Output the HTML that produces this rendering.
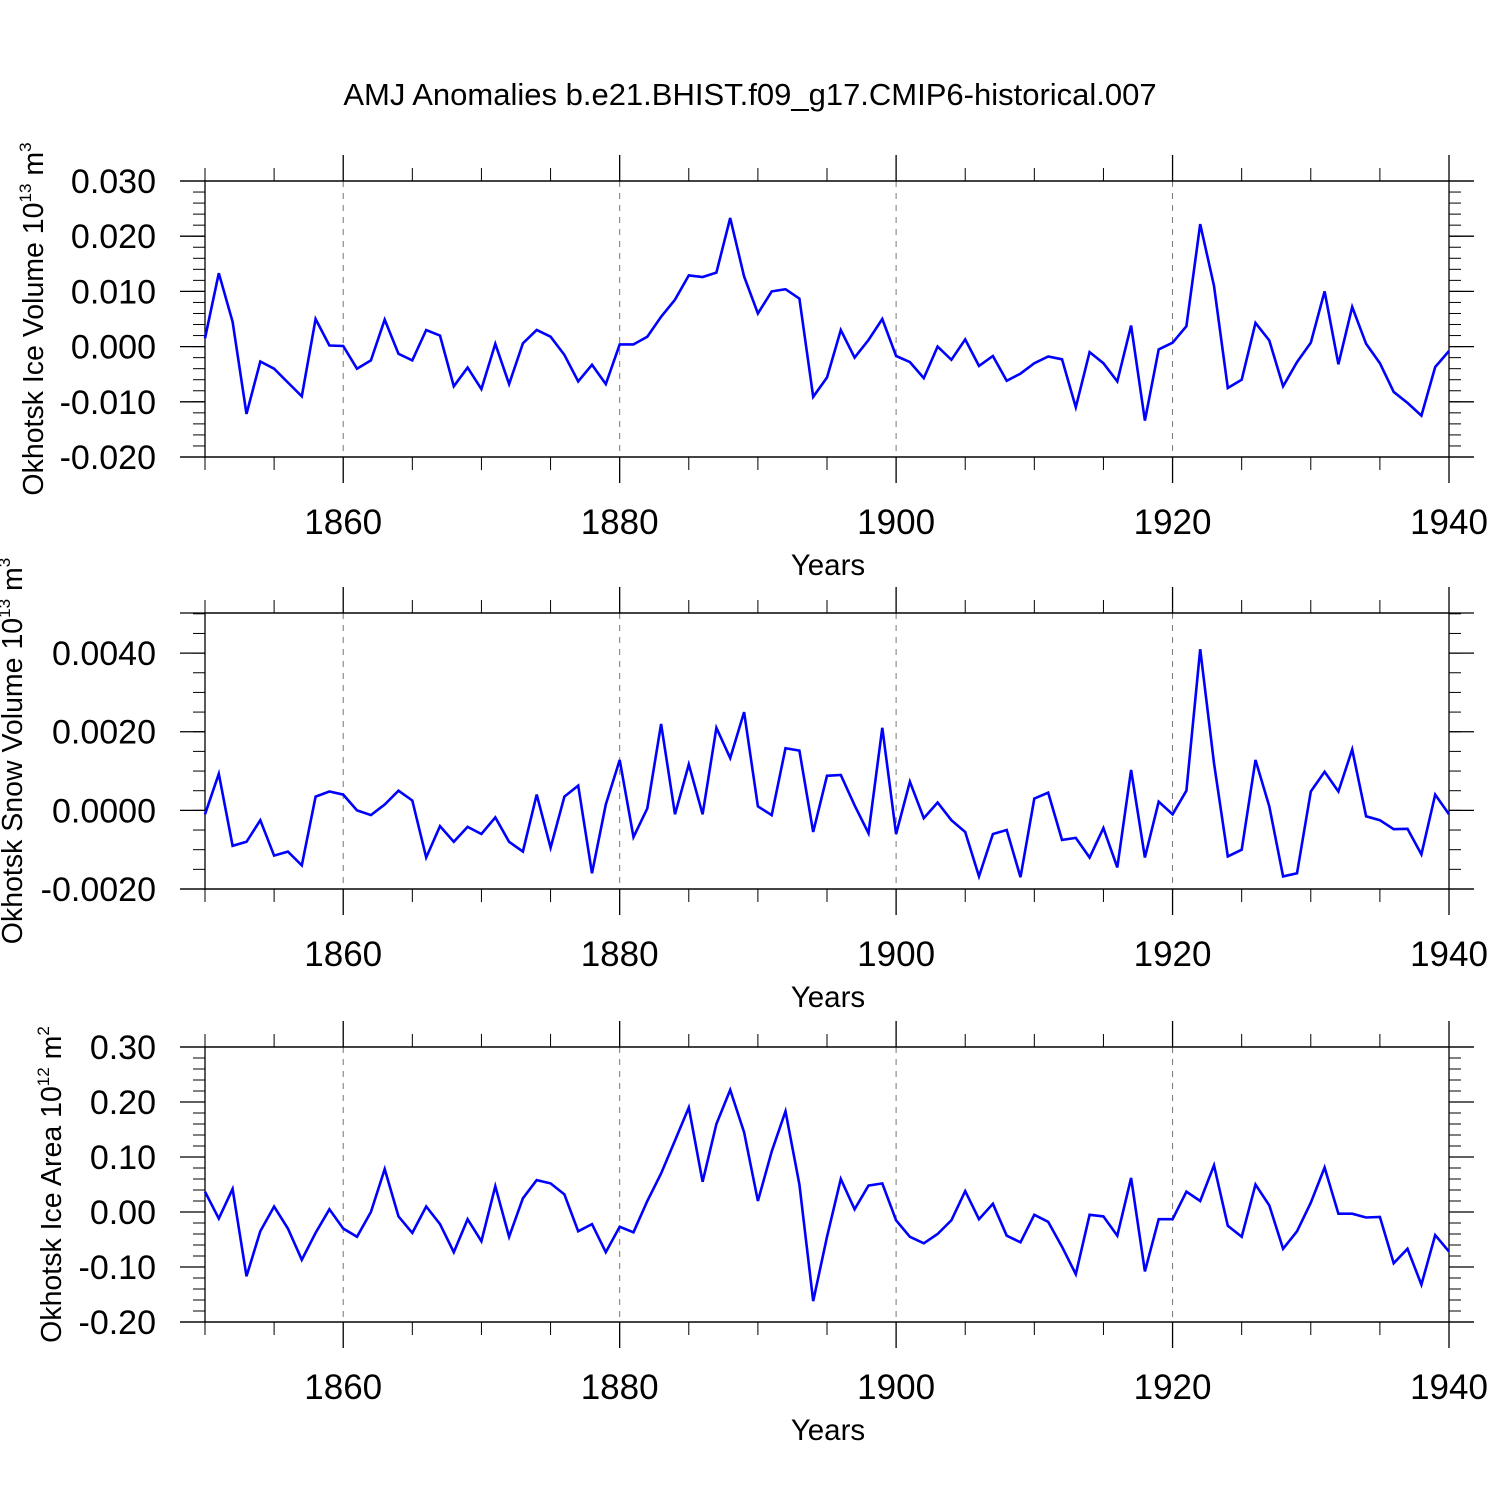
<!DOCTYPE html>
<html><head><meta charset="utf-8"><style>
html,body{margin:0;padding:0;background:#fff;}
svg{display:block;font-family:"Liberation Sans",Arial,sans-serif;}
</style></head><body>
<svg id="chart" width="1500" height="1500" viewBox="0 0 1500 1500" xmlns="http://www.w3.org/2000/svg">
<text x="750" y="105" font-size="31" text-anchor="middle">AMJ Anomalies b.e21.BHIST.f09_g17.CMIP6-historical.007</text>
</svg>
<script>
const years = [];
for (let y = 1850; y <= 1940; y++) years.push(y);
const iceVolume = [0.0015,0.0133,0.0045,-0.0122,-0.0027,-0.004,-0.0065,-0.009,0.005,0.0002,0.0001,-0.004,-0.0025,0.0049,-0.0013,-0.0025,0.003,0.002,-0.0072,-0.0038,-0.0077,0.0005,-0.0068,0.0006,0.003,0.0018,-0.0015,-0.0063,-0.0033,-0.0068,0.0004,0.0004,0.0018,0.0054,0.0085,0.0129,0.0126,0.0134,0.0233,0.0127,0.006,0.01,0.0104,0.0087,-0.0091,-0.0056,0.003,-0.002,0.0012,0.005,-0.0017,-0.0028,-0.0057,0.0,-0.0024,0.0013,-0.0035,-0.0017,-0.0062,-0.0049,-0.003,-0.0018,-0.0023,-0.011,-0.001,-0.003,-0.0063,0.0038,-0.0134,-0.0005,0.0007,0.0037,0.0222,0.011,-0.0075,-0.006,0.0043,0.0011,-0.0072,-0.0028,0.0007,0.01,-0.0032,0.0072,0.0005,-0.003,-0.0082,-0.0102,-0.0125,-0.0037,-0.0008];
const snowVolume = [-0.0001,0.00093,-0.0009,-0.0008,-0.00025,-0.00115,-0.00105,-0.0014,0.00035,0.00048,0.0004,0.0,-0.00012,0.00015,0.0005,0.00025,-0.0012,-0.0004,-0.0008,-0.00042,-0.0006,-0.00018,-0.0008,-0.00105,0.0004,-0.00095,0.00035,0.00063,-0.0016,0.00015,0.00128,-0.00068,0.00005,0.0022,-0.0001,0.00117,-0.0001,0.0021,0.00133,0.0025,0.0001,-0.00012,0.00158,0.00152,-0.00055,0.00088,0.0009,0.00013,-0.00058,0.0021,-0.0006,0.00073,-0.0002,0.0002,-0.00025,-0.00055,-0.00168,-0.0006,-0.0005,-0.0017,0.0003,0.00045,-0.00075,-0.0007,-0.0012,-0.00045,-0.00145,0.00103,-0.0012,0.00022,-0.0001,0.0005,0.0041,0.0012,-0.00117,-0.001,0.00128,0.0001,-0.00168,-0.0016,0.00048,0.00098,0.00048,0.00155,-0.00015,-0.00025,-0.00048,-0.00047,-0.00112,0.0004,-0.0001];
const iceArea = [0.037,-0.012,0.042,-0.117,-0.035,0.01,-0.03,-0.087,-0.038,0.005,-0.03,-0.045,0.0,0.078,-0.008,-0.038,0.01,-0.022,-0.073,-0.013,-0.053,0.047,-0.045,0.025,0.058,0.052,0.032,-0.035,-0.022,-0.073,-0.027,-0.037,0.02,0.07,0.13,0.19,0.055,0.16,0.222,0.145,0.02,0.11,0.183,0.05,-0.162,-0.045,0.06,0.005,0.048,0.052,-0.015,-0.045,-0.057,-0.04,-0.015,0.038,-0.013,0.015,-0.043,-0.055,-0.005,-0.018,-0.063,-0.113,-0.005,-0.008,-0.043,0.062,-0.108,-0.013,-0.013,0.037,0.02,0.085,-0.025,-0.045,0.05,0.012,-0.067,-0.035,0.017,0.081,-0.003,-0.003,-0.01,-0.009,-0.093,-0.067,-0.132,-0.042,-0.072];
const xMajorTicks = [1860,1880,1900,1920,1940];
const xTickLabels = ["1860","1880","1900","1920","1940"];
const iceVolTicks = [0.03,0.02,0.01,0.0,-0.01,-0.02];
const iceVolLabels = ["0.030","0.020","0.010","0.000","-0.010","-0.020"];
const snowTicks = [0.004,0.002,0.0,-0.002];
const snowLabels = ["0.0040","0.0020","0.0000","-0.0020"];
const areaTicks = [0.3,0.2,0.1,0.0,-0.1,-0.2];
const areaLabels = ["0.30","0.20","0.10","0.00","-0.10","-0.20"];

const NS = "http://www.w3.org/2000/svg";
const svg = document.getElementById('chart');
const L = 205, R = 1449, X0 = 1850, X1 = 1940;
const xs = v => L + (v - X0) / (X1 - X0) * (R - L);

function mk(tag, attrs, parent) {
  const e = document.createElementNS(NS, tag);
  for (const k in attrs) e.setAttribute(k, attrs[k]);
  (parent || svg).appendChild(e);
  return e;
}

function panel(name, top, bottom, ymin, ymax, minorStep, ticks, labels, data, titleMain, titleSup, titleUnit, titleX) {
  const g = mk('g', {});
  
  
  const ys = v => bottom - (v - ymin) / (ymax - ymin) * (bottom - top);
  for (const t of xMajorTicks) {
    if (t === 1940) continue;
    const gl = mk('line', {x1: xs(t), x2: xs(t), y1: top, y2: bottom, stroke: '#777', 'stroke-width': 1, 'stroke-dasharray': '6,6'}, g);
    
    
  }
  const nMinor = Math.round((ymax - ymin) / minorStep);
  for (let i = 0; i <= nMinor; i++) {
    const y = ys(ymin + i * minorStep);
    mk('line', {x1: L - 12, x2: L, y1: y, y2: y, stroke: '#000', 'stroke-width': 1}, g);
    mk('line', {x1: R, x2: R + 12, y1: y, y2: y, stroke: '#000', 'stroke-width': 1}, g);
  }
  ticks.forEach((t, i) => {
    const y = ys(t);
    mk('line', {x1: L - 25, x2: L, y1: y, y2: y, stroke: '#000', 'stroke-width': 1.3}, g);
    mk('line', {x1: R, x2: R + 25, y1: y, y2: y, stroke: '#000', 'stroke-width': 1.3}, g);
    const tx = mk('text', {x: 156, y: y + 12, 'font-size': 34, 'text-anchor': 'end'}, g);
    
    
    tx.textContent = labels[i];
  });
  mk('line', {x1: L - 25, x2: R + 25, y1: top, y2: top, stroke: '#000', 'stroke-width': 1.3}, g);
  mk('line', {x1: L - 25, x2: R + 25, y1: bottom, y2: bottom, stroke: '#000', 'stroke-width': 1.3}, g);
  for (let yr = 1850; yr <= 1940; yr += 5) {
    if (yr % 20 === 0) continue;
    mk('line', {x1: xs(yr), x2: xs(yr), y1: top - 13, y2: top, stroke: '#000', 'stroke-width': 1}, g);
    mk('line', {x1: xs(yr), x2: xs(yr), y1: bottom, y2: bottom + 13, stroke: '#000', 'stroke-width': 1}, g);
  }
  xMajorTicks.forEach((t, i) => {
    mk('line', {x1: xs(t), x2: xs(t), y1: top - 26, y2: top, stroke: '#000', 'stroke-width': 1.3}, g);
    mk('line', {x1: xs(t), x2: xs(t), y1: bottom, y2: bottom + 26, stroke: '#000', 'stroke-width': 1.3}, g);
    const tx = mk('text', {x: xs(t), y: bottom + 77, 'font-size': 35, 'text-anchor': 'middle'}, g);
    
    
    tx.textContent = xTickLabels[i];
  });
  const fr = mk('rect', {x: L, y: top, width: R - L, height: bottom - top, fill: 'none', stroke: '#000', 'stroke-width': 1.3}, g);
  
  
  const d = data.map((v, i) => (i ? 'L' : 'M') + xs(years[i]).toFixed(1) + ',' + ys(v).toFixed(1)).join(' ');
  const p = mk('path', {d: d, fill: 'none', stroke: '#0000ff', 'stroke-width': 2.6, 'stroke-linejoin': 'miter'}, g);
  
  
  const xt = mk('text', {x: 828, y: bottom + 118, 'font-size': 29.5, 'text-anchor': 'middle'}, g);
  
  
  xt.textContent = 'Years';
  const cy = (top + bottom) / 2;
  const yt = mk('text', {x: 0, y: 0, 'font-size': 28.5, 'text-anchor': 'middle', transform: `translate(${titleX},${cy}) rotate(-90)`}, g);
  
  
  const s1 = mk('tspan', {}, yt); s1.textContent = titleMain;
  const s2 = mk('tspan', {dy: -12, 'font-size': 17}, yt); s2.textContent = titleSup;
  const s3 = mk('tspan', {dy: 12}, yt); s3.textContent = ' ' + titleUnit;
  const s4 = mk('tspan', {dy: -12, 'font-size': 17}, yt); s4.textContent = (name === 'ice-area') ? '2' : '3';
}

panel('ice-volume', 181, 457, -0.02, 0.03, 0.002, iceVolTicks, iceVolLabels, iceVolume, 'Okhotsk Ice Volume 10', '13', 'm', 43);
panel('snow-volume', 613, 889, -0.002, 0.00502, 0.0005, snowTicks, snowLabels, snowVolume, 'Okhotsk Snow Volume 10', '13', 'm', 22);
panel('ice-area', 1047, 1322, -0.2, 0.3, 0.02, areaTicks, areaLabels, iceArea, 'Okhotsk Ice Area 10', '12', 'm', 61);
</script>
</body></html>
